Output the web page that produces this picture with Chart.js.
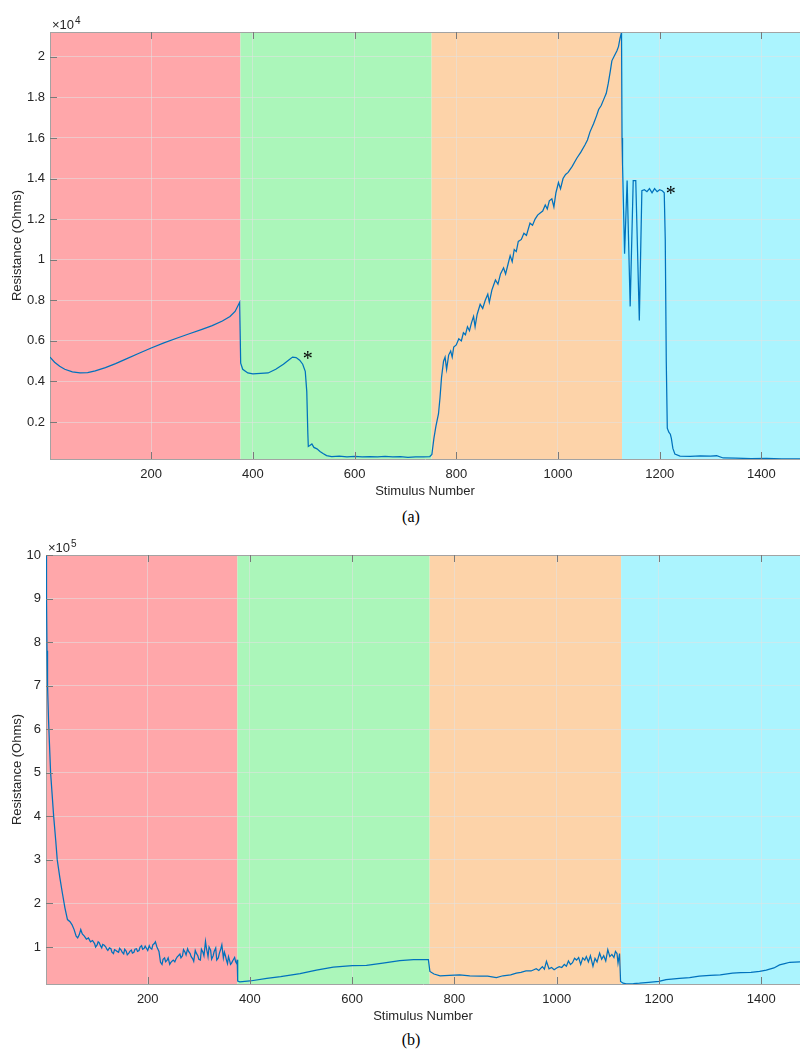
<!DOCTYPE html>
<html><head><meta charset="utf-8">
<script src="https://cdn.jsdelivr.net/npm/chart.js@4.4.1/dist/chart.umd.min.js"></script>
<style>
html,body{margin:0;padding:0;background:#fff;width:800px;height:1052px;overflow:hidden}
.wrap{position:absolute;left:0;width:800px}
.cap{position:absolute;width:800px;left:11px;text-align:center;font-family:"Liberation Serif","DejaVu Serif",serif;font-size:16px;color:#000;line-height:20px}
</style></head><body>
<div class="wrap" style="top:0;height:505px"><canvas id="ca" width="800" height="505"></canvas></div>
<div class="cap" style="top:507px">(a)</div>
<div class="wrap" style="top:520px;height:510px"><canvas id="cb" width="800" height="510"></canvas></div>
<div class="cap" style="top:1030px">(b)</div>
<script>
// ---------- data ----------
const xTicks = [200, 400, 600, 800, 1000, 1200, 1400];
const yTicksA = [2000, 4000, 6000, 8000, 10000, 12000, 14000, 16000, 18000, 20000];
const yTicksB = [100000, 200000, 300000, 400000, 500000, 600000, 700000, 800000, 900000, 1000000];
const bandStart = [1, 375.5, 751.5, 1126];
const bandEnd = [375.5, 751.5, 1126, 1476];
const bandColors = ['#FFA7AA', '#ABF6BA', '#FDD3A9', '#ABF4FE'];

const stimA = [1,10,20,30,45,60,75,90,110,130,150,175,200,225,250,275,300,320,340,355,365,374,
 376,380,390,400,415,430,445,460,470,478,485,492,498,503,506,508,509,512,516,520,526,532,538,545,555,570,585,600,615,630,645,660,675,690,705,720,735,748,
 752,756,760,765,768,771,775,778,781,785,789,792,795,800,805,810,814,818,822,826,830,834,837,841,847,852,857,862,865,870,877,882,887,893,897,902,906,910,914,918,922,928,933,938,945,950,955,960,965,970,975,979,983,988,992,996,1001,1005,1010,1015,1020,1028,1037,1045,1053,1058,1063,1070,1076,1080,1085,1090,1095,1099,1103,1106,1110,1114,1116,1119,1122,1125,
 1126,1127,1131,1136,1142,1148,1153,1160,1165,1170,1175,1180,1185,1190,1195,1200,1205,1209,1211,1213,1215,1218,1221,1223,1226,1230,1240,1260,1280,1300,1312,1325,1350,1380,1410,1440,1476];
const resA = [5200,4950,4750,4600,4470,4420,4440,4520,4680,4880,5100,5380,5650,5900,6130,6350,6570,6750,6980,7200,7450,7900,
 4900,4600,4420,4380,4400,4420,4600,4850,5050,5200,5180,5050,4850,4500,3500,1500,800,850,920,750,680,550,450,350,300,320,290,310,280,300,290,310,280,300,260,290,280,300,
 400,1200,1800,2400,3200,4200,5000,5200,4600,5300,5500,5200,5700,5800,6100,6000,6400,6300,6700,6500,6900,7200,6700,7300,7800,7600,8000,8300,7900,8500,9000,8800,9300,9600,9300,9800,10200,9900,10500,10400,10900,11000,11300,11200,11800,11700,12000,12200,12300,12400,12700,12500,12900,13000,12600,13300,13800,13500,14000,14200,14300,14600,15000,15300,15650,15900,16300,16700,17100,17400,17600,17900,18200,18700,19300,19800,20000,20200,20300,20500,20900,21200,
 16000,14700,10300,13900,7700,13900,13900,7000,13400,13450,13350,13500,13300,13500,13350,13450,13400,13300,11000,5000,1700,1500,1400,1200,700,420,320,310,330,320,340,230,220,200,210,190,180];

const stimB = [1,2,3,4,6,10,13,16,20,23,28,33,38,43,48,52,56,60,63,66,69,72,76,80,84,88,92,
 96,98,101,103,105,108,110,112,115,118,120,122,125,128,130,133,135,138,140,143,145,148,150,153,155,158,160,163,165,168,170,173,175,178,180,183,185,188,190,193,195,198,200,203,205,208,210,213,215,218,222,225,228,230,233,235,238,240,243,245,248,250,253,255,258,260,263,265,268,270,273,275,278,280,283,285,288,290,293,295,298,300,303,305,308,310,313,315,317,318,320,323,325,328,330,333,335,338,340,343,345,348,350,352,354,356,358,360,362,364,366,368,370,372,374,375,
 376,380,400,433,460,498,530,563,600,628,660,693,720,749,
 752,760,772,790,810,830,850,865,882,895,910,921,930,940,950,960,965,972,976,980,985,990,995,1000,1005,1010,1015,1019,1023,1027,1031,1035,1039,1043,1047,1051,1055,1058,1062,1066,1071,1075,1079,1084,1088,1092,1096,1100,1104,1108,1112,1115,1118,1120,1123,
 1125,1130,1136,1150,1162,1180,1200,1214,1240,1260,1279,1300,1320,1344,1360,1380,1397,1410,1425,1436,1446,1456,1476];
const resB = [1000000,900000,780000,700000,620000,500000,450000,400000,345000,300000,260000,224000,190000,163000,158000,151000,140000,125000,121000,128000,140000,130000,125000,118000,121000,112000,115000,
 108000,100000,105000,112000,110000,102000,98000,106000,104000,100000,
 95000,92000,98000,96000,88000,85000,94000,92000,90000,88000,
 97000,93000,88000,84000,95000,90000,82000,86000,90000,93000,
 86000,88000,95000,96000,90000,92000,100000,103000,95000,97000,
 102000,96000,92000,103000,98000,95000,105000,108000,112000,100000,
 90000,65000,60000,72000,75000,66000,70000,75000,60000,64000,
 68000,70000,66000,72000,78000,80000,84000,75000,80000,94000,
 88000,82000,96000,90000,85000,78000,73000,67000,92000,86000,
 80000,72000,70000,95000,88000,80000,113000,96000,85000,78000,
 100000,93000,72000,80000,90000,98000,70000,75000,85000,96000,
 105000,75000,88000,80000,70000,62000,78000,70000,60000,63000,
 68000,72000,76000,66000,62000,71000,
 22000,20000,22000,28000,32000,39000,47000,54000,57000,58000,63000,69000,71000,71000,
 44000,38000,34000,35000,36000,34000,33000,33000,30000,34000,36000,40000,42000,45000,45000,50000,46000,55000,49000,67000,50000,53000,48000,52000,55000,53000,60000,56000,68000,60000,64000,74000,70000,76000,60000,75000,70000,78000,66000,80000,56000,74000,66000,86000,72000,80000,68000,94000,78000,83000,76000,90000,85000,63000,85000,
 21000,17000,15500,16000,17000,19000,21000,25000,28000,30000,33000,35000,36000,40000,41000,42000,44000,47000,52000,59000,62000,65000,66000];

const markX = [508, 1222];
const markY = [5320, 13430];

// ---------- drawing ----------
const FONT = '"Liberation Sans", Arial, Helvetica, sans-serif';
const TXT = '#262626';

const bandsPlugin = {
  id: 'bands',
  beforeDraw(chart) {
    const {ctx, chartArea: a, scales: {x}} = chart;
    ctx.save();
    for (let i = 0; i < bandStart.length; i++) {
      const l = Math.max(a.left, x.getPixelForValue(bandStart[i]));
      const r = Math.min(a.right, x.getPixelForValue(bandEnd[i]));
      ctx.fillStyle = bandColors[i];
      ctx.fillRect(l, a.top, r - l, a.bottom - a.top);
    }
    ctx.restore();
  }
};

const overlayPlugin = {
  id: 'overlay',
  afterDraw(chart, args, opts) {
    const {ctx, chartArea: a, scales: {x, y}} = chart;
    ctx.save();
    ctx.strokeStyle = '#a3a3a3'; ctx.lineWidth = 1;
    ctx.beginPath(); ctx.moveTo(a.left, a.top + 0.5); ctx.lineTo(a.right, a.top + 0.5); ctx.stroke();
    ctx.strokeStyle = '#7a7a7a';
    ctx.beginPath();
    xTicks.forEach(v => {
      const p = Math.round(x.getPixelForValue(v)) + 0.5;
      ctx.moveTo(p, a.bottom); ctx.lineTo(p, a.bottom - 7);
      ctx.moveTo(p, a.top); ctx.lineTo(p, a.top + 7);
    });
    opts.yTicks.forEach(v => {
      const p = Math.round(y.getPixelForValue(v)) + 0.5;
      ctx.moveTo(a.left, p); ctx.lineTo(a.left + 7, p);
    });
    ctx.stroke();
    ctx.fillStyle = TXT;
    ctx.textBaseline = 'alphabetic'; ctx.textAlign = 'left';
    ctx.font = '13px ' + FONT;
    const base = a.top - 3;
    const t = '\u00d710';
    ctx.fillText(t, a.left + 2, base);
    const w = ctx.measureText(t).width;
    ctx.font = '10px ' + FONT;
    ctx.fillText(opts.exp, a.left + 3 + w, base - 5);
    if (opts.marks) {
      ctx.fillStyle = '#000';
      ctx.font = '20px "Liberation Serif", "DejaVu Serif", serif';
      ctx.textAlign = 'center';
      markX.forEach((mx, i) => {
        const px = x.getPixelForValue(mx), py = y.getPixelForValue(markY[i]);
        const m = ctx.measureText('*');
        ctx.fillText('*', px, py + (m.actualBoundingBoxAscent - m.actualBoundingBoxDescent) / 2);
      });
    }
    ctx.restore();
  }
};

function makeChart(id, xs, ys, yTicks, yMin, yMax, yW, padTop, xH, exp, marks, fmt) {
  const pts = xs.map((v, i) => ({x: v, y: ys[i]}));
  return new Chart(document.getElementById(id), {
    type: 'line',
    data: {datasets: [{data: pts, borderColor: '#0072BD', borderWidth: 1.25, pointRadius: 0, tension: 0, fill: false}]},
    plugins: [bandsPlugin, overlayPlugin],
    options: {
      responsive: false, animation: false, maintainAspectRatio: false,
      layout: {padding: {top: padTop, left: 0, right: 0, bottom: 0}},
      plugins: {legend: {display: false}, tooltip: {enabled: false},
        overlay: {yTicks: yTicks, exp: exp, marks: marks}},
      scales: {
        x: {
          type: 'linear', min: 1, max: 1476,
          afterBuildTicks: s => { s.ticks = xTicks.map(v => ({value: v})); },
          afterFit: s => { s.height = xH; },
          ticks: {callback: v => String(v), padding: 8, color: TXT, font: {family: FONT, size: 13}, maxRotation: 0, autoSkip: false},
          grid: {color: 'rgba(225,225,225,0.55)', drawTicks: false, lineWidth: 1},
          border: {color: '#a3a3a3', width: 1},
          title: {display: true, text: 'Stimulus Number', color: TXT, font: {family: FONT, size: 13}, padding: {top: 0, bottom: 6}}
        },
        y: {
          type: 'linear', min: yMin, max: yMax,
          afterBuildTicks: s => { s.ticks = yTicks.map(v => ({value: v})); },
          afterFit: s => { s.width = yW; },
          ticks: {callback: fmt, padding: 5, color: TXT, font: {family: FONT, size: 13}, autoSkip: false},
          grid: {color: 'rgba(225,225,225,0.55)', drawTicks: false, lineWidth: 1},
          border: {color: '#a3a3a3', width: 1},
          title: {display: true, text: 'Resistance (Ohms)', color: TXT, font: {family: FONT, size: 13}, padding: {top: 10, bottom: 0}}
        }
      }
    }
  });
}

makeChart('ca', stimA, resA, yTicksA, 180, 21220, 50, 32, 46, '4', true,
  v => String(parseFloat((v / 1e4).toFixed(1))));
makeChart('cb', stimB, resB, yTicksB, 15100, 1000000, 46, 35, 46, '5', false,
  v => String(Math.round(v / 1e5)));
</script>
</body></html>
